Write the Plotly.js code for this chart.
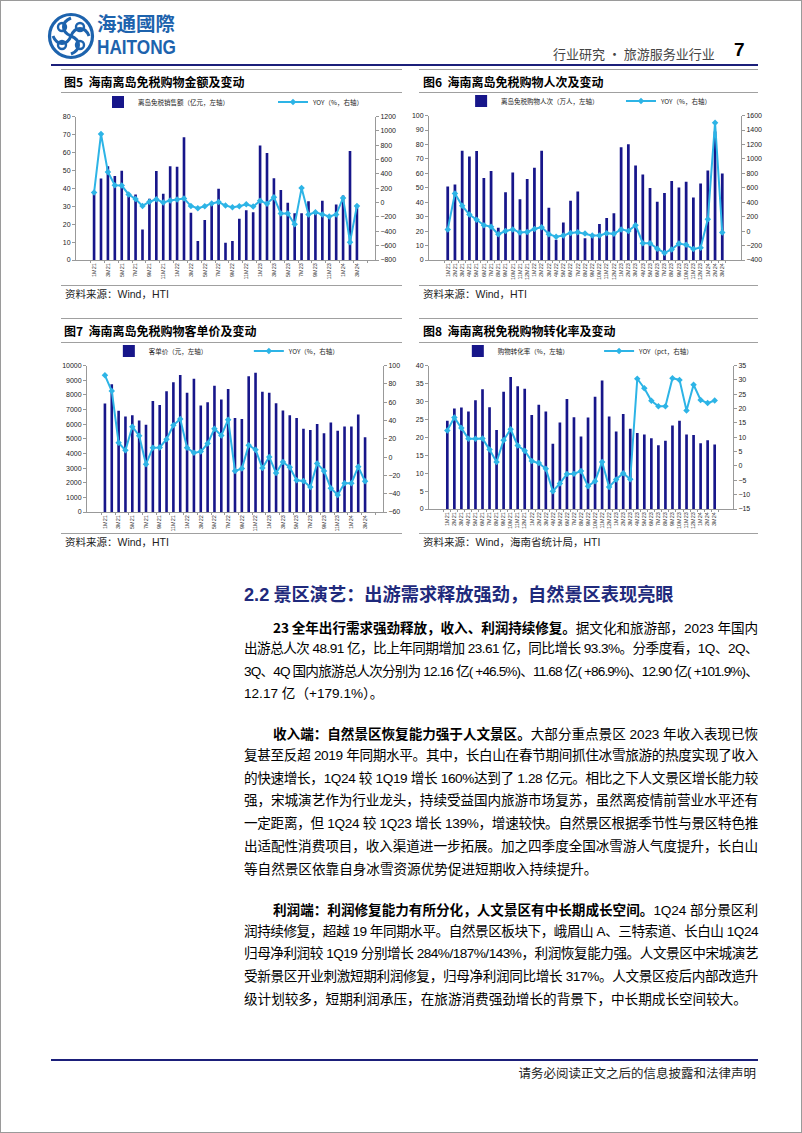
<!DOCTYPE html>
<html><head><meta charset="utf-8">
<script src="https://cdn.plot.ly/plotly-3.0.1.min.js"></script>
<style>
html,body{margin:0;padding:0;background:#fff;}
#page{position:relative;width:802px;height:1133px;box-sizing:border-box;border:1px solid #9a9a9a;overflow:hidden;font-family:"Noto Sans CJK SC",sans-serif;color:#000;}
.abs{position:absolute;}
.hl{position:absolute;height:0;border-top:1px solid #a0a0a0;}
.ftitle{position:absolute;font-size:12px;font-weight:700;white-space:nowrap;}
.src{position:absolute;font-size:10.5px;white-space:nowrap;color:#222;}
.src .lat{font-family:"Liberation Sans",Arial,sans-serif;}
.ln{position:absolute;left:243px;width:514px;font-size:13.6px;line-height:20px;height:20px;white-space:nowrap;text-align:justify;text-align-last:justify;font-family:"Liberation Sans","Noto Sans CJK SC",sans-serif;}
.ln.last{text-align-last:left;width:auto;}
.ln.ind{left:272px;width:485px;}
.ln b{font-family:"Noto Sans CJK SC",sans-serif;font-weight:700;}
.chart{position:absolute;}
</style></head>
<body><div id="page">
<!-- header logo -->
<svg class="abs" style="left:46px;top:11px" width="48" height="48" viewBox="0 0 48 48">
 <circle cx="24" cy="24" r="21.5" fill="none" stroke="#1d63ad" stroke-width="3.2"/>
 <path d="M24 6 C14 10 14 20 24 24 C34 28 34 38 24 42" fill="none" stroke="#1d63ad" stroke-width="3"/>
 <path d="M6 24 C10 34 20 34 24 24 C28 14 38 14 42 24" fill="none" stroke="#1d63ad" stroke-width="3"/>
 <circle cx="15" cy="15" r="4" fill="none" stroke="#1d63ad" stroke-width="2.4"/>
 <circle cx="33" cy="33" r="4" fill="none" stroke="#1d63ad" stroke-width="2.4"/>
 <circle cx="33" cy="15" r="4" fill="none" stroke="#1d63ad" stroke-width="2.4"/>
 <circle cx="15" cy="33" r="4" fill="none" stroke="#1d63ad" stroke-width="2.4"/>
</svg>
<div class="abs" style="left:96px;top:12px;font-size:19.5px;font-weight:700;color:#1d63ad;line-height:20px;height:20px;">海通國際</div>
<div class="abs" style="left:96px;top:38px;font-size:20px;font-weight:700;color:#1d63ad;font-family:'Liberation Sans',Arial,sans-serif;line-height:17px;height:17px;transform:scaleX(0.86);transform-origin:left top;">HAITONG</div>
<div class="abs" style="left:552px;top:43px;font-size:13px;color:#444;white-space:nowrap;">行业研究 · 旅游服务业行业</div>
<div class="abs" style="left:733px;top:38px;font-size:19px;font-weight:700;font-family:'Liberation Sans',Arial,sans-serif;">7</div>
<div class="abs" style="left:50px;top:63px;width:707px;height:2px;background:#1b1f7a;"></div>

<!-- figure titles row 1 -->
<div class="hl" style="left:60px;top:68px;width:341px;"></div>
<div class="hl" style="left:418px;top:68px;width:339px;"></div>
<div class="ftitle" style="left:63px;top:72px;">图5&nbsp;&nbsp;海南离岛免税购物金额及变动</div>
<div class="ftitle" style="left:422px;top:72px;">图6&nbsp;&nbsp;海南离岛免税购物人次及变动</div>
<div class="hl" style="left:60px;top:91px;width:341px;"></div>
<div class="hl" style="left:418px;top:91px;width:339px;"></div>

<div id="c5" class="chart" style="left:55px;top:92px;width:350px;height:192px;"></div>
<div id="c6" class="chart" style="left:405px;top:92px;width:365px;height:192px;"></div>

<div class="hl" style="left:60px;top:284px;width:341px;"></div>
<div class="hl" style="left:418px;top:284px;width:339px;"></div>
<div class="src" style="left:64px;top:285px;">资料来源：<span class="lat">Wind</span>，<span class="lat">HTI</span></div>
<div class="src" style="left:422px;top:285px;">资料来源：<span class="lat">Wind</span>，<span class="lat">HTI</span></div>

<!-- figure titles row 2 -->
<div class="hl" style="left:60px;top:317px;width:341px;"></div>
<div class="hl" style="left:418px;top:317px;width:339px;"></div>
<div class="ftitle" style="left:63px;top:321px;">图7&nbsp;&nbsp;海南离岛免税购物客单价及变动</div>
<div class="ftitle" style="left:422px;top:321px;">图8&nbsp;&nbsp;海南离税免税购物转化率及变动</div>
<div class="hl" style="left:60px;top:341px;width:341px;"></div>
<div class="hl" style="left:418px;top:341px;width:339px;"></div>

<div id="c7" class="chart" style="left:55px;top:343px;width:350px;height:190px;"></div>
<div id="c8" class="chart" style="left:405px;top:343px;width:365px;height:190px;"></div>

<div class="hl" style="left:60px;top:532px;width:341px;"></div>
<div class="hl" style="left:418px;top:532px;width:339px;"></div>
<div class="src" style="left:64px;top:533px;">资料来源：<span class="lat">Wind</span>，<span class="lat">HTI</span></div>
<div class="src" style="left:422px;top:533px;">资料来源：<span class="lat">Wind</span>，海南省统计局，<span class="lat">HTI</span></div>

<!-- section heading -->
<div class="abs" style="left:243px;top:579px;font-size:18.2px;font-weight:700;color:#1f2a7c;white-space:nowrap;"><span style="font-family:'Liberation Sans',Arial,sans-serif;">2.2</span>&nbsp;景区演艺：出游需求释放强劲，自然景区表现亮眼</div>

<!-- paragraph 1 -->
<div class="ln ind" style="top:616px;"><b>23 全年出行需求强劲释放，收入、利润持续修复。</b>据文化和旅游部，2023 年国内</div>
<div class="ln" style="top:638px;">出游总人次 48.91 亿，比上年同期增加 23.61 亿，同比增长 93.3%。分季度看，1Q、2Q、</div>
<div class="ln" style="top:661px;">3Q、4Q 国内旅游总人次分别为 12.16 亿( +46.5%)、11.68 亿( +86.9%)、12.90 亿( +101.9%)、</div>
<div class="ln last" style="top:683px;">12.17 亿（+179.1%）。</div>

<!-- paragraph 2 -->
<div class="ln ind" style="top:722px;"><b>收入端：自然景区恢复能力强于人文景区。</b>大部分重点景区 2023 年收入表现已恢</div>
<div class="ln" style="top:745px;">复甚至反超 2019 年同期水平。其中，长白山在春节期间抓住冰雪旅游的热度实现了收入</div>
<div class="ln" style="top:768px;">的快速增长，1Q24 较 1Q19 增长 160%达到了 1.28 亿元。相比之下人文景区增长能力较</div>
<div class="ln" style="top:790px;">强，宋城演艺作为行业龙头，持续受益国内旅游市场复苏，虽然离疫情前营业水平还有</div>
<div class="ln" style="top:813px;">一定距离，但 1Q24 较 1Q23 增长 139%，增速较快。自然景区根据季节性与景区特色推</div>
<div class="ln" style="top:836px;">出适配性消费项目，收入渠道进一步拓展。加之四季度全国冰雪游人气度提升，长白山</div>
<div class="ln last" style="top:859px;">等自然景区依靠自身冰雪资源优势促进短期收入持续提升。</div>

<!-- paragraph 3 -->
<div class="ln ind" style="top:898px;"><b>利润端：利润修复能力有所分化，人文景区有中长期成长空间。</b>1Q24 部分景区利</div>
<div class="ln" style="top:921px;">润持续修复，超越 19 年同期水平。自然景区板块下，峨眉山 A、三特索道、长白山 1Q24</div>
<div class="ln" style="top:943px;">归母净利润较 1Q19 分别增长 284%/187%/143%，利润恢复能力强。人文景区中宋城演艺</div>
<div class="ln" style="top:966px;">受新景区开业刺激短期利润修复，归母净利润同比增长 317%。人文景区疫后内部改造升</div>
<div class="ln last" style="top:989px;">级计划较多，短期利润承压，在旅游消费强劲增长的背景下，中长期成长空间较大。</div>

<!-- footer -->
<div class="abs" style="left:50px;top:1058px;width:707px;height:2px;background:#1b1f7a;"></div>
<div class="abs" style="right:45px;top:1062px;font-size:12.5px;color:#222;white-space:nowrap;">请务必阅读正文之后的信息披露和法律声明</div>
</div>
<script>
// fit justified text lines that would overflow
document.querySelectorAll('.ln').forEach(function(el){
  if (el.classList.contains('last')) return;
  var target = el.clientWidth;
  el.innerHTML = '<span>' + el.innerHTML + '</span>';
  var sp = el.firstChild;
  var w = sp.getBoundingClientRect().width;
  if (w > target - 2) {
    var n = sp.textContent.length;
    el.style.letterSpacing = ((target - 2 - w) / n) + 'px';
  }
});
</script>
<script>
// ---- data ----
const months = ["1M21","2M21","3M21","4M21","5M21","6M21","7M21","8M21","9M21","10M21","11M21","12M21",
"1M22","2M22","3M22","4M22","5M22","6M22","7M22","8M22","9M22","10M22","11M22","12M22",
"1M23","2M23","3M23","4M23","5M23","6M23","7M23","8M23","9M23","10M23","11M23","12M23",
"1M24","2M24","3M24"];

// 图5 离岛免税销售额（亿元）及 YOY（%）
const salesAmt = [37,45.4,52.3,46.8,49.8,35.6,36.5,17,34.2,49.6,36.9,52.3,
52,68.4,26.4,10.6,22.3,31.5,39.7,9.6,10.6,23,27.7,26.6,
63.8,59.6,45.6,39,31.9,26,26,32.8,27,33,24,30.9,
36,60.8,29.5];
const salesYoy = [140,956,428,242,238,114,51,-46,12,47,3,29,
43,56,-46,-77,-51,-11,7,-42,-64,-51,-24,-55,
25,-15,74,-153,-153,-303,202,-166,-135,-166,-192,-166,
65,-551,-46];

// 图6 离岛免税购物人次（万人）及 YOY（%）
const shoppers = [50.9,52.2,75.7,71.7,75.4,56.7,61.6,22.3,46.9,60.5,42,56,
63.8,75.7,36.2,14,25.9,41,47.5,15,16,25,29,32.4,
78.1,80.1,65.4,59.2,49.8,40.4,46.4,54.7,50.2,54.2,43.3,52.9,
62,89,59.8];
const shoppersYoy = [24,520,350,230,158,82,60,-43,2,24,-20,-12,
29,55,-43,-79,-61,-25,-16,-34,-61,-61,-29,-38,
24,2,82,-168,-168,-244,-302,-253,-172,-190,-248,-230,
163,1502,-20];

// 图7 客单价（元）及 YOY（%）
const unitPrice = [7408,8726,6911,6523,6609,6242,5961,7581,7300,8250,8855,9352,
8143,9093,7279,7495,8618,7689,8402,6415,6350,9266,9503,8207,
8143,7430,6933,6609,6415,5680,5594,6004,5378,6112,5551,5832,
5832,6652,5097];
const unitPriceYoy = [89.3,72.2,15.7,7.4,33.2,23.3,-7.8,10.2,10.5,19.5,34.7,41.6,
10.2,4.6,6,14.7,31,23.6,40.9,-15.1,-12.6,12.9,8,-12,
0.1,-17.5,-5.4,-11.2,-25.4,-26.1,-32.7,-7.1,-15.1,-34.1,-41.3,-28.5,
-28.5,-10.6,-26.5];

// 图8 购物转化率（%）及 YOY（pct）
const convRate = [24.6,28,28.3,27.2,30.3,33.4,28.4,22,32.7,36.8,34.2,33.5,
26.2,29.1,27.2,18.2,24.1,30.7,25.6,20.2,25.5,31.3,35.8,25.8,
21.6,26.5,22.4,21.2,20.8,19.7,17.8,19,23.3,24.6,20.8,20.6,
18.3,19.2,18];
const convRateYoy = [12.4,16.9,13.2,9.5,9.5,9.6,5.7,1.4,9,12.8,7.1,5.3,
1.7,1,-1,-8.8,-6.1,-2.8,-2.7,-1.8,-7.1,-5.3,1.4,-7.3,
-4.7,-2.5,-4.6,30.4,27.1,22.7,20.8,20.8,30.6,30,19.3,28.3,
23,21.9,22.8];

// ---- drawing ----
const NAVY = "#17168a", CYAN = "#2db4e6";
function draw(id, cfg){
  const bar = {type:"bar", x:months, y:cfg.bars, name:cfg.barName, marker:{color:NAVY}, yaxis:"y", legend:"legend"};
  const line = {type:"scatter", mode:"lines+markers", x:months, y:cfg.yoy, name:cfg.lineName, yaxis:"y2", legend:"legend2",
    line:{color:CYAN,width:2}, marker:{symbol:"diamond",size:5,color:CYAN}};
  const axFont = {family:"Liberation Sans, Arial, sans-serif", size:7, color:"#222"};
  const legFont = {family:"Noto Sans CJK SC, sans-serif", size:6.5, color:"#222"};
  const leg = (x) => ({orientation:"h", xref:"container", yref:"container", x:x, y:cfg.ly, xanchor:"left", yanchor:"middle",
      font:legFont, itemwidth:30, bgcolor:"rgba(0,0,0,0)"});
  const layout = {
    width:cfg.w, height:cfg.h, margin:cfg.m,
    paper_bgcolor:"rgba(0,0,0,0)", plot_bgcolor:"#fff",
    bargap:0.62, showlegend:true,
    legend:leg(cfg.lx1), legend2:leg(cfg.lx2),
    xaxis:{type:"category", tickangle:-90, tickfont:{family:"Liberation Sans, Arial, sans-serif", size:5.5, color:"#333"},
      showline:true, linecolor:"#999", linewidth:1, ticks:"outside", ticklen:2, tickcolor:"#999", tickson:"boundaries",
      showgrid:false, zeroline:false, automargin:false},
    yaxis:{range:cfg.yr, dtick:cfg.yd, tickformat:"d", tickfont:axFont, showline:true, linecolor:"#999", ticks:"outside", ticklen:3,
      tickcolor:"#999", showgrid:false, zeroline:false, automargin:false},
    yaxis2:{range:cfg.y2r, dtick:cfg.y2d, tickformat:"d", overlaying:"y", side:"right", tickfont:axFont, showline:true, linecolor:"#999",
      ticks:"outside", ticklen:3, tickcolor:"#999", showgrid:false, zeroline:false, automargin:false}
  };
  Plotly.newPlot(id, [bar, line], layout, {staticPlot:true, displayModeBar:false});
}

draw("c5", {bars:salesAmt, yoy:salesYoy, barName:"离岛免税销售额（亿元，左轴）", lineName:"YOY（%，右轴）",
  w:350, h:192, m:{l:20,r:31,t:17,b:25}, yr:[0,80], yd:10, y2r:[-800,1200], y2d:200, lx1:0.12, lx2:0.62, ly:0.953});
draw("c6", {bars:shoppers, yoy:shoppersYoy, barName:"离岛免税购物人次（万人，左轴）", lineName:"YOY（%，右轴）",
  w:365, h:192, m:{l:23,r:30,t:18,b:25}, yr:[0,100], yd:10, y2r:[-400,1600], y2d:200, lx1:0.151, lx2:0.589, ly:0.958});
draw("c7", {bars:unitPrice, yoy:unitPriceYoy, barName:"客单价（元，左轴）", lineName:"YOY（%，右轴）",
  w:350, h:190, m:{l:31,r:23,t:14,b:22}, yr:[0,10000], yd:1000, y2r:[-60,100], y2d:20, lx1:0.151, lx2:0.551, ly:0.963});
draw("c8", {bars:convRate, yoy:convRateYoy, barName:"购物转化率（%，左轴）", lineName:"YOY（pct，右轴）",
  w:365, h:190, m:{l:23,r:38,t:17,b:25}, yr:[0,40], yd:5, y2r:[-15,35], y2d:5, lx1:0.142, lx2:0.529, ly:0.963});
</script>
</body></html>
